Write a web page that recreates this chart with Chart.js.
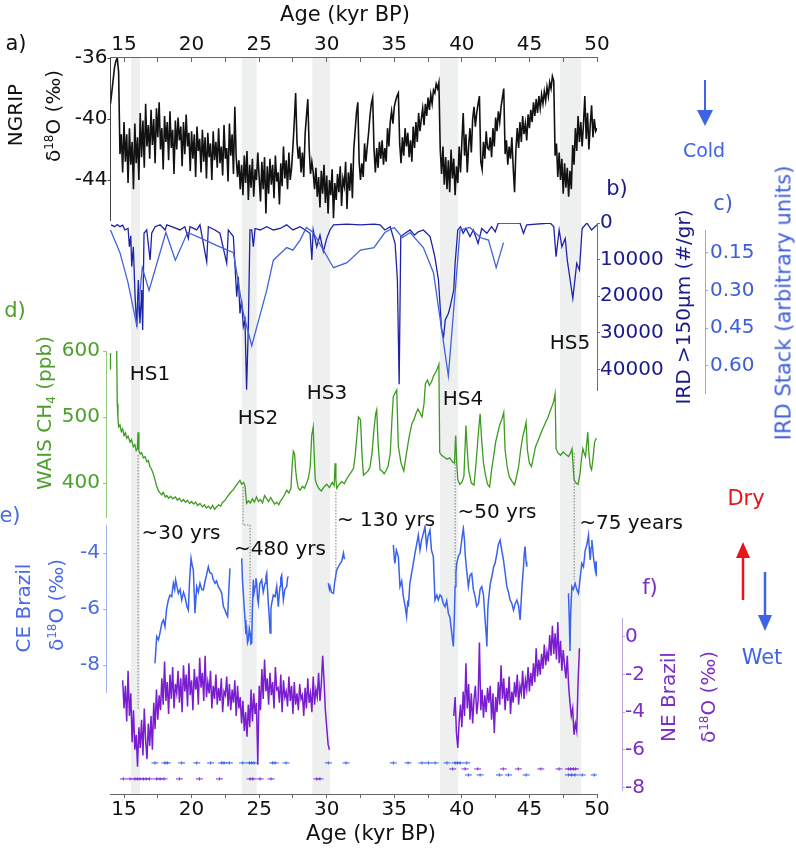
<!DOCTYPE html>
<html>
<head>
<meta charset="utf-8">
<script src="https://cdn.jsdelivr.net/npm/chart.js@4.4.1/dist/chart.umd.min.js"></script>
<style>
body { margin: 0; background: #fff; }
#wrap { position: relative; width: 796px; height: 848px; overflow: hidden; background: #fff; font-family: 'DejaVu Sans', sans-serif; }
#wrap canvas { position: absolute; left: 0; top: 0; }
.lbl { position: absolute; transform: translate(-50%, -50%); white-space: nowrap; font-size: 20px; line-height: 1; color: #111; }
.rot { transform: translate(-50%, -50%) rotate(-90deg); }
.sp { font-size: 0.6em; position: relative; top: -0.6em; }
.sb { font-size: 0.6em; position: relative; top: 0.35em; }
</style>
</head>
<body>
<div id="wrap">
  <canvas id="cFrame" width="796" height="848"></canvas>
  <canvas id="cA" width="796" height="848"></canvas>
  <canvas id="cB" width="796" height="848"></canvas>
  <canvas id="cC" width="796" height="848"></canvas>
  <canvas id="cD" width="796" height="848"></canvas>
  <canvas id="cE" width="796" height="848"></canvas>
  <canvas id="cF" width="796" height="848"></canvas>

  <!-- axis titles and notes -->
  <div class="lbl" style="left:345px;top:14px;font-size:21px">Age (kyr BP)</div>
  <div class="lbl" style="left:371px;top:833px;font-size:21px">Age (kyr BP)</div>

  <div class="lbl" style="left:16px;top:43px;font-size:21px">a)</div>
  <div class="lbl rot" style="left:15px;top:115px">NGRIP</div>
  <div class="lbl rot" style="left:53px;top:116px">δ<span class="sp">18</span>O (‰)</div>

  <div class="lbl" style="left:617px;top:188px;color:#1a1a8c;font-size:21px">b)</div>
  <div class="lbl" style="left:723px;top:203px;color:#3d5fd8;font-size:21px">c)</div>
  <div class="lbl rot" style="left:683px;top:307px;color:#1a1a8c">IRD &gt;150µm (#/gr)</div>
  <div class="lbl rot" style="left:784px;top:303px;color:#3d5fd8;font-size:21px">IRD Stack (arbitrary units)</div>
  <div class="lbl" style="left:704px;top:150px;color:#3d63e6;font-size:19px">Cold</div>

  <div class="lbl" style="left:15px;top:310px;color:#4ba02c;font-size:21px">d)</div>
  <div class="lbl rot" style="left:44px;top:413px;color:#4ba02c">WAIS CH<span class="sb">4</span> (ppb)</div>

  <div class="lbl" style="left:150px;top:373px">HS1</div>
  <div class="lbl" style="left:258px;top:417px">HS2</div>
  <div class="lbl" style="left:327px;top:392px">HS3</div>
  <div class="lbl" style="left:463px;top:398px">HS4</div>
  <div class="lbl" style="left:570px;top:342px">HS5</div>

  <div class="lbl" style="left:10px;top:515px;color:#4a6ae6;font-size:21px">e)</div>
  <div class="lbl rot" style="left:23px;top:608px;color:#4a6ae6">CE Brazil</div>
  <div class="lbl rot" style="left:56px;top:605px;color:#4a6ae6">δ<span class="sp">18</span>O (‰)</div>

  <div class="lbl" style="left:181px;top:532px">~30 yrs</div>
  <div class="lbl" style="left:280px;top:548px">~480 yrs</div>
  <div class="lbl" style="left:386px;top:519px">~ 130 yrs</div>
  <div class="lbl" style="left:497px;top:511px">~50 yrs</div>
  <div class="lbl" style="left:631px;top:522px">~75 years</div>

  <div class="lbl" style="left:746px;top:498px;color:#e8141a;font-size:21px">Dry</div>
  <div class="lbl" style="left:762px;top:657px;color:#3d63e6;font-size:21px">Wet</div>

  <div class="lbl" style="left:650px;top:587px;color:#7b2fc4;font-size:21px">f)</div>
  <div class="lbl rot" style="left:668px;top:697px;color:#7b2fc4">NE Brazil</div>
  <div class="lbl rot" style="left:708px;top:697px;color:#7b2fc4">δ<span class="sp">18</span>O (‰)</div>

  <svg width="796" height="848" style="position:absolute;left:0;top:0">
    <line x1="705" y1="80" x2="705" y2="112" stroke="#3d63e6" stroke-width="2"/>
    <polygon points="697,110 713,110 705,126" fill="#3d63e6"/>
    <line x1="743" y1="600" x2="743" y2="556" stroke="#e8141a" stroke-width="2.5"/>
    <polygon points="736,558 750,558 743,542" fill="#e8141a"/>
    <line x1="765" y1="572" x2="765" y2="617" stroke="#3d63e6" stroke-width="2.5"/>
    <polygon points="758,615 772,615 765,631" fill="#3d63e6"/>
  </svg>
</div>

<script>
// ---- data ----

// tick values
const ageTicks = [15, 17.5, 20, 22.5, 25, 27.5, 30, 32.5, 35, 37.5, 40, 42.5, 45, 47.5, 50];
const ngripTicks = [-44, -40, -36];
const irdTicks = [0, 10000, 20000, 30000, 40000];
const stackTicks = [0.15, 0.30, 0.45, 0.60];
const ch4Ticks = [400, 500, 600];
const ceTicks = [-8, -6, -4];
const neTicks = [-8, -6, -4, -2, 0];

// Heinrich stadial shading (kyr BP)
const hsStart = [15.52, 23.71, 28.94, 38.38, 47.27];
const hsEnd   = [16.18, 24.82, 30.25, 39.74, 48.83];

// a) NGRIP d18O, every 0.1 kyr from 14.0
const ngripStart = 14.0, ngripStep = 0.1;
const ngripD18O = [
  -39.0, -38.2, -37.4, -36.6, -36.2, -36.0, -36.9, -42.3, -41.0, -43.5,
  -40.2, -42.8, -41.0, -44.2, -40.6, -43.0, -41.5, -44.6, -40.3, -42.9,
  -41.2, -44.0, -39.6, -42.5, -40.1, -43.2, -39.0, -41.8, -40.4, -42.6,
  -39.4, -41.7, -40.0, -42.9, -39.3, -41.2, -38.9, -42.0, -40.6, -43.3,
  -39.8, -41.5, -40.2, -42.7, -39.5, -41.9, -40.7, -43.6, -40.1, -42.0,
  -39.9, -41.4, -40.5, -43.1, -40.2, -42.3, -39.7, -41.8, -40.9, -43.4,
  -40.8, -42.6, -41.0, -43.8, -40.5, -42.1, -41.3, -43.5, -40.7, -42.8,
  -41.2, -43.9, -40.9, -42.5, -41.6, -44.0, -40.8, -42.7, -41.5, -43.2,
  -40.6, -42.9, -41.8, -43.7, -40.4, -42.6, -41.9, -44.1, -40.3, -42.4,
  -41.0, -43.6, -39.2, -42.5, -43.8, -42.7, -44.6, -43.0, -45.0, -42.4,
  -44.2, -42.1, -45.3, -43.0, -44.5, -42.6, -45.1, -43.3, -44.0, -42.2,
  -43.8, -45.4, -42.8, -44.6, -42.5, -46.2, -43.1, -44.9, -42.6, -44.3,
  -43.0, -45.2, -42.4, -44.1, -43.5, -45.6, -42.9, -44.4, -41.8, -43.9,
  -42.7, -44.6, -42.2, -44.0, -43.2, -41.8, -40.2, -38.3, -41.5, -42.6,
  -41.8, -43.5, -42.2, -43.8, -41.0, -39.8, -38.7, -41.9, -43.6, -42.8,
  -43.5, -44.6, -43.2, -45.1, -43.8, -45.8, -43.4, -44.9, -43.0, -45.5,
  -43.7, -46.2, -44.0, -45.0, -43.3, -46.5, -44.2, -45.3, -43.6, -44.8,
  -43.1, -45.7, -43.9, -44.4, -42.8, -45.9, -43.5, -44.7, -42.9, -45.2,
  -42.0, -40.8, -39.6, -38.9, -42.8, -44.0, -42.9, -43.8, -41.6, -42.8,
  -41.8, -40.9, -39.8, -39.0, -38.6, -42.0, -43.5, -41.9, -43.2, -41.5,
  -42.6, -41.4, -43.0, -41.9, -42.8, -40.6, -41.8, -40.2, -39.5, -40.3,
  -39.2, -38.8, -38.5, -38.3, -41.6, -42.9, -41.2, -42.4, -40.6, -41.8,
  -40.9, -42.5, -41.4, -42.8, -40.5, -41.9, -40.2, -41.5, -39.6, -40.8,
  -40.0, -39.3, -40.4, -39.0, -39.8, -38.6, -39.4, -38.4, -39.0, -38.1,
  -38.3, -37.7, -38.0, -37.6, -42.0, -43.6, -41.8, -44.3, -42.5, -44.6,
  -42.7, -44.8, -42.0, -43.9, -42.6, -45.0, -43.1, -44.2, -41.8, -43.5,
  -41.5, -39.6, -42.4, -41.0, -43.5, -41.8, -40.6, -42.2, -40.0, -39.2,
  -40.5, -39.6, -39.0, -38.5, -42.8, -43.3, -41.5, -42.6, -40.8, -41.9,
  -42.0, -41.2, -42.5, -40.6, -41.8, -39.9, -40.8, -39.5, -40.2, -39.2,
  -38.6, -38.0, -42.3, -41.4, -43.0, -41.8, -42.6, -41.2, -43.2, -44.8,
  -42.0, -40.6, -41.9, -40.2, -41.5, -39.8, -41.0, -40.3, -41.4, -39.7,
  -40.6, -39.4, -40.2, -38.9, -39.8, -38.7, -39.6, -38.5, -39.3, -38.4,
  -39.0, -38.2, -38.8, -37.9, -38.5, -37.6, -38.0, -37.2, -37.5, -42.4,
  -41.6, -43.8, -42.2, -44.0, -42.6, -44.9, -42.9, -44.5, -43.2, -45.1,
  -43.4, -44.6, -41.7, -43.0, -40.6, -42.1, -39.8, -41.5, -40.2, -41.8,
  -40.3, -38.5, -41.3, -39.6, -42.0, -40.4, -39.1, -41.2, -40.0, -40.8,
  -40.6
];

// b) IRD >150um (#/gr): [age, count]
const irdCount = [
  [14.04, 500], [14.3, 1000], [14.5, 400], [14.7, 1000], [14.9, 600], [15.07, 1900], [15.3, 1500],
  [15.4, 6500], [15.5, 3500], [15.57, 11900], [15.69, 6500], [15.82, 20100], [15.94, 28300],
  [16.06, 15600], [16.18, 27400], [16.31, 18300], [16.38, 29200], [16.48, 2800], [16.68, 1900],
  [16.93, 10100], [17.05, 2800], [17.3, 1000], [17.67, 500], [18.04, 1900], [18.16, 500],
  [18.53, 1000], [19.14, 1900], [19.5, 1000], [19.76, 4200], [19.88, 1000], [20.38, 1900],
  [20.62, 500], [21.12, 10600], [21.24, 1000], [21.73, 1900], [22.1, 2800], [22.6, 11000],
  [22.72, 1900], [23.09, 3700], [23.34, 20100], [23.46, 14700], [23.58, 24700], [23.7, 21000],
  [23.83, 28300], [23.95, 26500], [24.07, 45500], [24.2, 28300], [24.32, 1900], [24.45, 1900],
  [24.57, 6500], [24.7, 1500], [25.07, 1900], [25.56, 1000], [26.05, 1900], [26.55, 1500],
  [27.04, 500], [27.5, 1900], [28.03, 1000], [28.77, 2800], [28.9, 10100], [29.0, 1900],
  [29.26, 6500], [29.5, 3300], [29.75, 7800], [30.0, 4200], [30.24, 1900], [30.5, 500],
  [31.5, 300], [32.5, 500], [33.5, 300], [33.95, 500], [34.3, 1900], [34.7, 1000], [35.06, 5600],
  [35.23, 15600], [35.36, 44000], [35.48, 3700], [35.8, 2800], [36.17, 1900], [36.5, 3300],
  [36.78, 2400], [37.15, 1900], [37.4, 2800], [37.65, 3700], [38.0, 9200], [38.27, 15600],
  [38.5, 29200], [38.65, 31000], [38.77, 26500], [39.0, 24700], [39.13, 22900], [39.4, 18300],
  [39.5, 11000], [39.7, 1900], [39.9, 1000], [40.1, 2800], [40.3, 1500], [40.6, 3700],
  [40.85, 1900], [41.2, 5600], [41.47, 1500], [41.85, 2800], [42.2, 1000], [42.47, 2400],
  [42.7, 0], [44.3, 0], [44.56, 2800], [44.8, 500], [46.53, 0], [46.8, 1000], [46.97, 9200],
  [47.2, 1900], [47.4, 6500], [47.65, 4200], [47.8, 10100], [48.21, 20600], [48.5, 11000],
  [48.7, 12800], [48.9, 1500], [49.25, 0], [49.6, 1900], [50.0, 500]
];

// c) IRD stack (arbitrary units): [age, value]
const irdStack = [
  [14.0, 0.06], [14.7, 0.15], [15.3, 0.27], [15.95, 0.44], [16.35, 0.21], [16.85, 0.30],
  [18.1, 0.07], [18.8, 0.18], [19.7, 0.07], [20.6, 0.09], [21.8, 0.12], [23.1, 0.15],
  [23.83, 0.39], [24.45, 0.52], [25.56, 0.30], [26.05, 0.18], [27.04, 0.13], [27.5, 0.14],
  [28.03, 0.10], [28.5, 0.05], [29.0, 0.07], [30.5, 0.21], [31.5, 0.19], [32.5, 0.14],
  [33.5, 0.13], [34.3, 0.07], [35.0, 0.05], [35.6, 0.09], [36.17, 0.07], [37.15, 0.13],
  [37.9, 0.23], [39.0, 0.64], [39.87, 0.06], [40.6, 0.05], [41.35, 0.09], [41.97, 0.10],
  [42.54, 0.21], [43.08, 0.11]
];

// d) WAIS CH4 (ppb): [age, ppb]
const ch4Stub = [[14.0, 597], [14.0, 572]];
const ch4 = [
  [14.46, 600], [14.5, 520], [14.55, 498], [14.6, 485], [14.7, 488], [14.8, 478], [14.9, 482],
  [15.0, 472], [15.1, 476], [15.2, 468], [15.3, 471], [15.45, 462], [15.55, 466], [15.69, 455],
  [15.8, 458], [15.9, 449], [15.99, 452], [16.04, 477], [16.1, 448], [16.2, 444], [16.3, 446],
  [16.43, 438], [16.55, 440], [16.7, 432], [16.8, 434], [16.92, 425], [17.05, 420], [17.2, 412],
  [17.3, 404], [17.42, 395], [17.55, 388], [17.66, 385], [17.8, 382], [17.9, 386], [18.05, 379],
  [18.16, 381], [18.3, 377], [18.45, 380], [18.6, 376], [18.8, 379], [18.95, 374], [19.1, 377],
  [19.25, 372], [19.4, 375], [19.55, 371], [19.7, 374], [19.85, 369], [20.0, 372], [20.15, 368],
  [20.3, 371], [20.45, 366], [20.62, 369], [20.8, 364], [20.95, 367], [21.1, 362], [21.25, 365],
  [21.4, 361], [21.55, 366], [21.7, 360], [21.86, 364], [22.0, 367], [22.15, 365], [22.3, 371],
  [22.45, 373], [22.6, 378], [22.75, 382], [22.9, 386], [23.09, 390], [23.25, 395], [23.4, 399],
  [23.58, 404], [23.7, 398], [23.85, 401], [23.95, 396], [24.07, 369], [24.2, 373], [24.35, 370],
  [24.5, 376], [24.65, 371], [24.8, 379], [24.95, 372], [25.1, 375], [25.25, 370], [25.4, 381],
  [25.56, 376], [25.7, 372], [25.85, 378], [26.0, 373], [26.15, 368], [26.3, 371], [26.45, 367],
  [26.55, 372], [26.7, 376], [26.85, 381], [27.04, 389], [27.2, 385], [27.35, 392], [27.45, 430],
  [27.53, 448], [27.62, 444], [27.7, 420], [27.78, 405], [27.9, 392], [28.03, 389], [28.2, 395],
  [28.35, 392], [28.52, 400], [28.65, 408], [28.78, 425], [28.89, 472], [29.0, 485], [29.08, 440],
  [29.15, 405], [29.26, 398], [29.4, 392], [29.6, 388], [29.8, 394], [30.0, 398], [30.2, 393],
  [30.4, 401], [30.55, 396], [30.62, 430], [30.68, 405], [30.74, 392], [30.9, 397], [31.1, 402],
  [31.3, 399], [31.48, 406], [31.65, 412], [31.8, 416], [31.98, 422], [32.1, 440], [32.25, 475],
  [32.35, 500], [32.5, 496], [32.62, 440], [32.72, 412], [32.9, 415], [33.05, 418], [33.2, 424],
  [33.35, 445], [33.5, 482], [33.62, 505], [33.7, 511], [33.8, 460], [33.95, 420], [34.1, 418],
  [34.25, 414], [34.4, 419], [34.55, 426], [34.7, 445], [34.85, 505], [34.93, 531], [35.05, 536],
  [35.18, 541], [35.3, 455], [35.5, 430], [35.7, 418], [35.9, 445], [36.1, 470], [36.3, 490],
  [36.45, 496], [36.6, 505], [36.75, 512], [36.9, 506], [37.05, 500], [37.2, 520], [37.3, 550],
  [37.45, 556], [37.6, 548], [37.75, 553], [37.9, 562], [38.05, 567], [38.2, 574], [38.3, 580],
  [38.36, 446], [38.5, 442], [38.7, 439], [38.9, 436], [39.1, 438], [39.3, 432], [39.45, 430],
  [39.55, 472], [39.62, 430], [39.7, 405], [39.85, 398], [40.0, 401], [40.15, 410], [40.3, 487],
  [40.4, 450], [40.5, 420], [40.7, 400], [40.9, 397], [41.05, 430], [41.2, 470], [41.35, 505],
  [41.45, 470], [41.6, 430], [41.75, 412], [41.9, 398], [42.05, 394], [42.2, 420], [42.35, 440],
  [42.5, 462], [42.65, 475], [42.8, 488], [42.95, 496], [43.1, 507], [43.2, 450], [43.35, 425],
  [43.5, 410], [43.7, 403], [43.9, 397], [44.05, 410], [44.2, 425], [44.35, 450], [44.5, 470],
  [44.65, 482], [44.75, 492], [44.85, 450], [45.0, 430], [45.15, 425], [45.3, 440], [45.45, 455],
  [45.6, 462], [45.75, 470], [45.9, 478], [46.05, 485], [46.2, 492], [46.35, 498], [46.5, 507],
  [46.65, 515], [46.8, 524], [46.9, 535], [46.97, 452], [47.1, 446], [47.3, 442], [47.5, 447],
  [47.7, 443], [47.9, 440], [48.05, 446], [48.15, 452], [48.25, 420], [48.31, 405], [48.45, 400],
  [48.6, 398], [48.75, 415], [48.85, 436], [48.95, 452], [49.05, 445], [49.15, 440], [49.25, 462],
  [49.32, 477], [49.4, 445], [49.5, 425], [49.6, 420], [49.72, 440], [49.82, 462], [49.95, 468]
];

// e) CE Brazil speleothem d18O, five pieces: [age, d18O]
const ceSeg1 = [
  [17.29, -7.94], [17.42, -6.98], [17.55, -7.1], [17.66, -6.86], [17.8, -6.5], [17.91, -6.39],
  [18.03, -6.63], [18.15, -6.0], [18.28, -5.68], [18.4, -5.5], [18.53, -5.56], [18.65, -5.08],
  [18.75, -5.3], [18.82, -4.96], [18.92, -5.2], [19.02, -5.44], [19.15, -5.3], [19.27, -5.68],
  [19.4, -5.4], [19.51, -5.56], [19.65, -5.9], [19.76, -6.04], [19.85, -5.0], [19.96, -4.19],
  [20.05, -4.45], [20.13, -4.61], [20.2, -5.5], [20.25, -6.15], [20.38, -5.2], [20.5, -5.4],
  [20.62, -5.08], [20.75, -5.3], [20.87, -5.32], [21.0, -5.0], [21.1, -4.8], [21.24, -4.49],
  [21.35, -4.7], [21.49, -4.73], [21.6, -4.95], [21.74, -5.08], [21.85, -5.0], [21.98, -5.2],
  [22.1, -5.3], [22.23, -5.44], [22.35, -5.9], [22.47, -6.04], [22.6, -6.2], [22.67, -6.27],
  [22.75, -5.4], [22.84, -4.55]
];
const ceSeg2 = [
  [23.71, -4.19], [23.77, -5.0], [23.83, -5.44], [23.9, -6.0], [23.96, -6.39], [24.02, -6.9],
  [24.08, -6.75], [24.14, -7.2], [24.2, -7.1], [24.27, -6.7], [24.33, -6.86], [24.39, -7.25],
  [24.45, -7.22], [24.5, -6.0], [24.57, -4.96], [24.63, -5.4], [24.7, -5.2], [24.76, -4.9],
  [24.82, -5.08], [24.88, -5.6], [24.94, -5.8], [25.05, -5.1], [25.19, -4.96], [25.3, -5.4],
  [25.44, -5.08], [25.5, -4.85], [25.56, -4.73], [25.62, -5.3], [25.68, -5.8], [25.75, -6.3],
  [25.81, -6.86], [25.87, -6.0], [25.93, -5.8], [26.05, -5.5], [26.18, -5.56], [26.3, -5.2],
  [26.42, -5.92], [26.48, -5.5], [26.55, -5.2], [26.6, -4.9], [26.67, -4.79], [26.73, -5.3],
  [26.79, -5.68], [26.9, -5.3], [27.04, -5.2], [27.1, -4.9], [27.16, -4.84]
];
const ceSeg3 = [
  [30.12, -5.08], [30.2, -5.3], [30.25, -5.2], [30.35, -5.4], [30.5, -5.44], [30.6, -5.0],
  [30.74, -4.61], [30.85, -4.5], [30.99, -4.38], [31.1, -4.3], [31.24, -4.0], [31.3, -4.2],
  [31.36, -4.19]
];
const ceSeg4 = [
  [34.93, -3.71], [35.0, -4.2], [35.05, -4.37], [35.15, -3.9], [35.3, -4.13], [35.42, -5.2],
  [35.55, -5.0], [35.67, -5.56], [35.8, -5.9], [35.91, -6.27], [36.0, -5.7], [36.04, -5.92],
  [36.15, -5.1], [36.28, -4.73], [36.4, -4.4], [36.53, -4.01], [36.65, -3.7], [36.78, -3.36],
  [36.9, -3.9], [37.02, -3.54], [37.15, -3.3], [37.27, -3.06], [37.39, -3.77], [37.5, -3.4],
  [37.64, -3.18], [37.75, -3.9], [37.89, -4.13], [38.01, -5.68], [38.15, -5.5], [38.26, -5.68],
  [38.38, -5.5], [38.5, -5.56], [38.62, -5.8], [38.75, -5.92], [38.88, -5.7], [39.0, -6.15],
  [39.12, -6.3], [39.25, -6.86], [39.37, -7.34], [39.45, -6.2], [39.5, -5.2], [39.56, -4.7],
  [39.62, -4.37], [39.75, -4.1], [39.87, -4.01], [40.0, -3.5], [40.11, -3.12], [40.2, -3.6],
  [40.24, -4.01], [40.35, -4.6], [40.48, -5.2], [40.6, -4.8], [40.73, -4.73], [40.85, -5.3],
  [40.98, -5.56], [41.1, -5.9], [41.23, -5.8], [41.35, -5.3], [41.47, -5.2], [41.6, -5.5],
  [41.72, -6.39], [41.8, -6.9], [41.85, -7.34], [41.92, -6.0], [41.97, -5.68], [42.1, -5.1],
  [42.22, -4.84], [42.35, -4.5], [42.46, -4.37], [42.6, -4.0], [42.7, -3.7], [42.83, -3.54],
  [42.95, -3.9], [43.08, -4.25], [43.2, -4.7], [43.33, -5.2], [43.45, -5.4], [43.57, -5.68],
  [43.7, -5.8], [43.82, -6.04], [43.95, -5.8], [44.07, -5.68], [44.2, -5.9], [44.31, -6.39],
  [44.45, -5.2], [44.56, -4.49], [44.62, -4.0], [44.68, -3.77], [44.75, -4.3], [44.8, -4.49]
];
const ceSeg5 = [
  [47.89, -5.44], [47.95, -6.4], [48.0, -7.5], [48.05, -6.2], [48.14, -5.2], [48.25, -5.3],
  [48.38, -5.08], [48.5, -5.3], [48.63, -5.44], [48.75, -4.9], [48.88, -4.37], [49.0, -4.5],
  [49.13, -3.9], [49.25, -3.7], [49.37, -3.36], [49.45, -4.0], [49.5, -4.25], [49.56, -3.8],
  [49.62, -3.54], [49.75, -4.2], [49.87, -4.61], [49.93, -4.3], [49.99, -4.84]
];

// f) NE Brazil speleothem d18O, every 0.1 kyr
const neSeg1Start = 14.9, neSeg2Start = 39.4, neStep = 0.1;
const neSeg1 = [
  -2.3,
  -3.8, -2.6, -4.5, -1.8, -4.2, -3.0, -5.6, -3.9, -6.0, -5.2,
  -6.9, -4.8, -5.9, -4.4, -6.3, -3.8, -5.5, -6.5, -4.6, -5.8,
  -4.2, -6.0, -3.5, -4.9, -2.8, -4.4, -3.1, -3.9, -2.2, -3.6,
  -1.3, -3.4, -2.4, -4.1, -2.0, -3.3, -1.6, -3.8, -2.5, -3.0,
  -1.8, -3.5, -2.2, -4.0, -1.5, -2.9, -2.0, -3.7, -1.4, -3.1,
  -2.3, -3.9, -1.7, -2.8, -2.1, -3.6, -1.1, -2.7, -1.9, -3.4,
  -1.0, -3.2, -2.4, -3.0, -1.8, -3.8, -2.6, -3.3, -2.0, -3.6,
  -2.7, -3.4, -2.2, -4.0, -2.9, -3.1, -2.1, -3.7, -2.5, -3.9,
  -2.8, -3.5, -2.3, -4.2, -2.6, -3.8, -3.2, -4.6, -3.4, -5.0,
  -4.0, -5.3, -3.6, -4.8, -2.8, -4.5, -3.0, -4.1, -3.5, -6.8,
  -2.6, -3.9, -1.7, -3.3, -1.2, -2.9, -2.2, -3.6, -1.9, -3.1,
  -2.4, -3.8, -1.6, -2.8, -2.7, -3.5, -2.0, -4.0, -2.3, -3.2,
  -2.9, -3.7, -2.1, -3.4, -2.6, -4.1, -2.4, -3.6, -3.0, -3.9,
  -2.5, -3.3, -3.1, -4.2, -2.7, -3.8, -2.2, -3.5, -3.0, -4.0,
  -2.1, -3.6, -2.8, -3.2, -1.9, -3.4, -2.5, -1.0, -2.3, -3.9,
  -4.8, -5.7, -6.0
];
const neSeg2 = [
  -4.2, -3.2, -5.1, -5.9, -4.5, -3.6,
  -4.8, -2.9, -4.2, -1.4, -3.8, -2.5, -4.4, -3.0, -4.6, -3.3,
  -2.6, -4.1, -3.4, -0.3, -3.9, -2.8, -4.3, -3.1, -4.0, -2.7,
  -3.5, -2.6, -4.4, -3.0, -5.1, -3.2, -4.0, -2.4, -3.6, -1.5,
  -3.3, -2.2, -3.9, -2.7, -3.4, -2.1, -4.1, -2.9, -3.5, -2.4,
  -3.2, -2.0, -3.6, -2.6, -3.0, -1.8, -3.3, -2.3, -2.8, -1.6,
  -2.9, -1.9, -2.6, -1.4, -2.4, -0.6, -2.1, -1.2, -2.0, -0.9,
  -1.7, -0.4, -1.5, -0.8, -1.3, 0.1, -1.0, 0.6, -0.9, 0.2,
  -1.2, 0.8, -1.4, -0.2, -1.8, -0.7, -1.5, -2.2, -1.0, -2.6,
  -3.5, -4.2, -3.8, -5.2, -4.6, -5.0, -2.4, -0.6
];

// U-Th dates (kyr BP), drawn as rows under panel f
const ceDatesA = [17.29, 18.03, 18.2, 19.27, 20.38, 21.41, 22.23, 22.4, 22.8, 23.78, 24.28, 24.45,
  24.62, 26.0, 26.18, 26.99, 30.12, 31.43, 34.93, 36.02, 37.05, 37.52, 38.02, 38.9, 39.5, 39.67,
  39.87, 40.36];
const ceDatesB = [40.49, 41.35, 42.78, 43.45, 44.76, 47.88, 48.12, 48.37, 48.91, 49.8];
const neDatesA = [14.95, 15.44, 15.81, 15.99, 16.18, 16.43, 16.63, 16.88, 17.42, 17.67, 17.96, 19.1,
  20.58, 22.06, 24.33, 24.53, 25.07, 25.88, 29.26, 29.5];
const neDatesB = [39.32, 40.24, 41.17, 43.07, 44.18, 45.84, 47.19, 47.88, 48.05, 48.25, 48.42];
const rowCeA = -6.70, rowNeB = -7.02, rowCeB = -7.34, rowNeA = -7.55;

// dotted tie lines CH4 -> Brazil, in panel e units
const tieHS1 = [[16.04, -0.5], [16.04, -9.6]];
const tieHS2 = [[23.81, -1.64], [23.81, -3.0], [24.33, -3.0], [24.33, -6.5]];
const tieHS3 = [[30.68, -1.82], [30.68, -5.04]];
const tieHS4 = [[39.5, 0.14], [39.5, -5.14]];
const tieHS5 = [[48.31, -0.43], [48.31, -4.96]];

// ---- drawing ----
Chart.defaults.font.family = "'DejaVu Sans', sans-serif";
Chart.defaults.font.size = 20;
Chart.defaults.color = '#111';

const W = 796, H = 848;
const PLOT_R = 597;

function pts(pairs) { return pairs.map(p => ({ x: p[0], y: p[1] })); }
function seq(start, step, vals) {
  return vals.map((v, i) => ({ x: Math.round((start + i * step) * 100) / 100, y: v }));
}
function withGaps(segs) {
  const out = [];
  segs.forEach((s, i) => {
    if (i) out.push({ x: s[0][0], y: null });
    s.forEach(p => out.push({ x: p[0], y: p[1] }));
  });
  return out;
}
function fixTicks(list) {
  return s => { s.ticks = list.map(v => ({ value: v })); };
}

function line(data, color, width, extra) {
  return Object.assign({
    data: data, borderColor: color, borderWidth: width, pointRadius: 0,
    fill: false, tension: 0, spanGaps: false, xAxisID: 'x', yAxisID: 'y'
  }, extra || {});
}
function tie(pairs) {
  return line(pts(pairs), '#7a7a7a', 1, { borderDash: [1.5, 1.5], clip: false });
}
function dateMarks(ages, level, color) {
  const data = ages.map(a => ({ x: a, y: level }));
  return [
    { data: data, showLine: false, pointStyle: 'line', pointRadius: 3.5, pointBorderWidth: 1,
      pointBorderColor: color, borderColor: color, xAxisID: 'x', yAxisID: 'y' },
    { data: data, showLine: false, pointStyle: 'line', pointRotation: 90, pointRadius: 1.6,
      pointBorderWidth: 1, pointBorderColor: color, borderColor: color, xAxisID: 'x', yAxisID: 'y' }
  ];
}

function baseOpts(padding, scales) {
  return {
    responsive: false, animation: false, devicePixelRatio: 1, events: [],
    layout: { padding: padding },
    plugins: { legend: { display: false }, tooltip: { enabled: false } },
    scales: scales
  };
}
function hiddenAge(min) { return { type: 'linear', min: min, max: 50, display: false }; }

// top axis ticks point into the plot, bottom ones point out
function ageAxis(pos) {
  const top = pos === 'top';
  return {
    type: 'linear', position: pos, min: 14, max: 50,
    afterBuildTicks: fixTicks(ageTicks),
    afterFit: s => { s.height = 30; },
    border: { display: true, color: '#666', width: 1 },
    grid: { drawOnChartArea: false, tickLength: top ? -5 : 4, color: '#666' },
    ticks: {
      autoSkip: false, maxRotation: 0, padding: top ? 5 : 0, color: '#111', font: { size: 20 },
      callback: v => (v % 5 === 0 ? String(v) : '')
    }
  };
}

function yAxis(o) {
  return {
    type: 'linear', position: o.pos, min: o.min, max: o.max, reverse: !!o.reverse, weight: o.weight || 0,
    afterBuildTicks: fixTicks(o.ticks),
    afterFit: s => { s.width = o.width; },
    border: { display: true, color: o.axisColor, width: 1 },
    grid: { drawOnChartArea: false, tickLength: 3, color: o.axisColor },
    ticks: {
      autoSkip: false, padding: o.pad, color: o.color, font: { size: 20 },
      callback: v => (o.fmt ? o.fmt(v) : String(v))
    }
  };
}
function spacer(width) {
  return {
    type: 'linear', position: 'right', min: 0, max: 1, weight: 0,
    afterFit: s => { s.width = width; },
    border: { display: false }, grid: { display: false }, ticks: { display: false }
  };
}

const bandPlugin = {
  id: 'hsBands',
  beforeDraw(chart) {
    const { ctx, chartArea, scales } = chart;
    ctx.save();
    ctx.fillStyle = '#eef0f0';
    hsStart.forEach((s, i) => {
      const x0 = scales.xt.getPixelForValue(s);
      const x1 = scales.xt.getPixelForValue(hsEnd[i]);
      ctx.fillRect(x0, chartArea.top, x1 - x0, chartArea.bottom - chartArea.top);
    });
    ctx.restore();
  }
};

// frame: shading + both age axes
new Chart(document.getElementById('cFrame'), {
  type: 'line',
  data: { datasets: [] },
  options: baseOpts({ left: 110.5, right: W - PLOT_R, top: 27, bottom: 24 }, {
    xt: ageAxis('top'),
    xb: ageAxis('bottom'),
    y: { type: 'linear', display: false, min: 0, max: 1 }
  }),
  plugins: [bandPlugin]
});

// a) NGRIP
new Chart(document.getElementById('cA'), {
  type: 'line',
  data: { datasets: [line(seq(ngripStart, ngripStep, ngripD18O), '#111111', 1.6)] },
  options: baseOpts({ left: 50.5, right: W - PLOT_R, top: 58, bottom: H - 220 }, {
    x: hiddenAge(14),
    y: yAxis({ pos: 'left', min: -46.62, max: -36, ticks: ngripTicks, width: 60, pad: 0,
      color: '#111', axisColor: '#444' })
  })
});

// b) IRD count
new Chart(document.getElementById('cB'), {
  type: 'line',
  data: { datasets: [line(pts(irdCount), '#1e22a6', 1.3)] },
  options: baseOpts({ left: 110.5, right: W - PLOT_R - 70, top: 223, bottom: H - 390 }, {
    x: hiddenAge(14),
    y: yAxis({ pos: 'right', min: 0, max: 45600, ticks: irdTicks, reverse: true, width: 70, pad: 0,
      color: '#1a1a8c', axisColor: '#6a6aa8' })
  })
});

// c) IRD stack
new Chart(document.getElementById('cC'), {
  type: 'line',
  data: { datasets: [line(pts(irdStack), '#4263d8', 1.3, { clip: false })] },
  options: baseOpts({ left: 110.5, right: W - 705 - 60, top: 230, bottom: H - 393 }, {
    x: hiddenAge(14),
    y: yAxis({ pos: 'right', min: 0.06, max: 0.708, ticks: stackTicks, reverse: true, width: 60, pad: 2,
      weight: 1, color: '#3d5fd8', axisColor: '#9aa8e2', fmt: v => v.toFixed(2) }),
    yd: spacer(705 - PLOT_R)
  })
});

// d) WAIS CH4
new Chart(document.getElementById('cD'), {
  type: 'line',
  data: { datasets: [
    line(pts(ch4Stub), '#3c9b1e', 1.3),
    line(pts(ch4), '#3c9b1e', 1.3)
  ] },
  options: baseOpts({ left: 46, right: W - PLOT_R, top: 351, bottom: H - 517 }, {
    x: hiddenAge(13.667),
    y: yAxis({ pos: 'left', min: 348.5, max: 600, ticks: ch4Ticks, width: 60, pad: 3,
      color: '#4ba02c', axisColor: '#92cc7e' })
  })
});

// e) CE Brazil + tie lines
new Chart(document.getElementById('cE'), {
  type: 'line',
  data: { datasets: [
    tie(tieHS1), tie(tieHS2), tie(tieHS3), tie(tieHS4), tie(tieHS5),
    line(withGaps([ceSeg1, ceSeg2, ceSeg3, ceSeg4, ceSeg5]), '#3a62ec', 1.5)
  ] },
  options: baseOpts({ left: 46, right: W - PLOT_R, top: 525, bottom: H - 692 }, {
    x: hiddenAge(13.667),
    y: yAxis({ pos: 'left', min: -8.964, max: -3.0, ticks: ceTicks, width: 60, pad: 3,
      color: '#4a6ae6', axisColor: '#a2b2f0' })
  })
});

// f) NE Brazil + dating rows
new Chart(document.getElementById('cF'), {
  type: 'line',
  data: { datasets: [
    line(seq(neSeg1Start, neStep, neSeg1), '#7a1ccf', 1.5),
    line(seq(neSeg2Start, neStep, neSeg2), '#7a1ccf', 1.5)
  ].concat(
    dateMarks(ceDatesA, rowCeA, '#3a5ee0'),
    dateMarks(neDatesB, rowNeB, '#7a2fd0'),
    dateMarks(ceDatesB, rowCeB, '#3a5ee0'),
    dateMarks(neDatesA, rowNeA, '#7a2fd0')
  ) },
  options: baseOpts({ left: 110.5, right: W - 622 - 50, top: 618, bottom: H - 790 }, {
    x: hiddenAge(14),
    y: yAxis({ pos: 'right', min: -8.14, max: 1.01, ticks: neTicks, width: 50, pad: 0, weight: 1,
      color: '#7b2fc4', axisColor: '#c0a2e2' }),
    yd: spacer(622 - PLOT_R)
  })
});
</script>
</body>
</html>
